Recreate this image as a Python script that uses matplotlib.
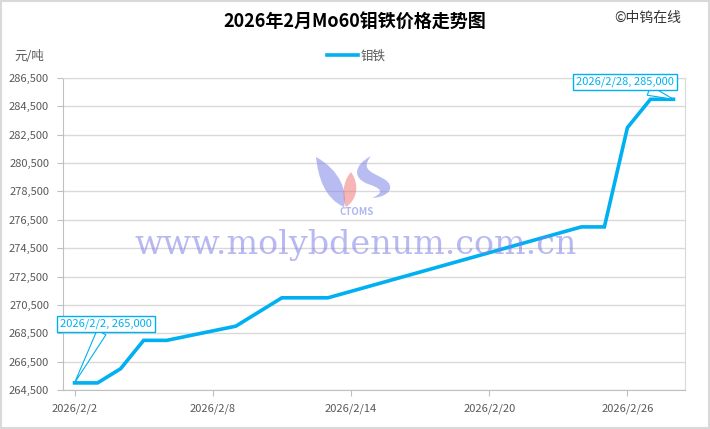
import matplotlib.pyplot as plt
import numpy as np
from matplotlib.path import Path
from matplotlib.patches import PathPatch

plt.rcParams['font.family'] = ['Noto Sans CJK SC', 'DejaVu Sans']

# trading days in Feb 2026 and Mo60 ferro-molybdenum price (yuan/ton)
days = [2, 3, 4, 5, 6, 9, 10, 11, 12, 13, 24, 25, 26, 27, 28]
prices = [265000, 265000, 266000, 268000, 268000, 269000, 270000, 271000,
          271000, 271000, 276000, 276000, 283000, 285000, 285000]
tick_days = [2, 8, 14, 20, 26]
tick_labels = ['2026/2/%d' % d for d in tick_days]
yticks = np.arange(264500, 286501, 2000)

blue = '#00B0F0'
gray = '#595959'
W, H = 710, 429

fig = plt.figure(figsize=(7.1, 4.29), dpi=100)
ax = fig.add_axes([63 / W, 1 - 390 / H, 622 / W, 312 / H])

ax.plot(days, prices, color=blue, lw=2.6, label='钼铁', solid_joinstyle='miter', zorder=3)

ax.set_xlim(1.5, 28.5)
ax.set_ylim(264500, 286500)
ax.set_yticks(yticks)
ax.set_yticklabels(['{:,}'.format(v) for v in yticks])
ax.set_xticks(tick_days)
ax.set_xticklabels(tick_labels)
ax.tick_params(colors='#BFBFBF', labelcolor=gray, labelsize=8, length=4)
ax.tick_params(axis='y', pad=6)
ax.tick_params(axis='x', pad=6)
ax.grid(axis='y', color='#D9D9D9', lw=1)
for s in ['top', 'right']:
    ax.spines[s].set_color('#D9D9D9')
for s in ['left', 'bottom']:
    ax.spines[s].set_color('#BFBFBF')


# logo (rough flame shapes), pixel coords with y downward
def px(pts):
    return [(x / W, 1 - y / H) for x, y in pts]


C4 = Path.CURVE4
logo = [
    ([(316, 157), (318, 176), (324, 198), (344, 207), (348, 192), (340, 170), (316, 157)], '#7F86E6'),
    ([(351, 172), (342, 182), (342, 198), (346, 207), (357, 200), (360, 185), (351, 172)], '#F07A7A'),
    ([(371, 156), (354, 165), (352, 178), (368, 184), (380, 188), (386, 192), (372, 198),
      (390, 197), (396, 186), (384, 179), (372, 172), (360, 170), (371, 156)], '#7F86E6'),
]
for pts, c in logo:
    codes = [Path.MOVETO] + [C4] * (len(pts) - 1)
    fig.patches.append(PathPatch(Path(px(pts), codes), transform=fig.transFigure,
                                 fc=c, ec='none', alpha=0.55, zorder=4))
fig.text(357 / W, 1 - 212 / H, 'CTOMS', ha='center', va='center', fontsize=7,
         style='italic', weight='bold', color='#7F86E6', alpha=0.6, zorder=4)

# watermark
fig.text(356 / W, 1 - 245 / H, 'www.molybdenum.com.cn', ha='center', va='center',
         family='DejaVu Serif', fontsize=24, color='#7F7FE8', alpha=0.55, zorder=4)

# callouts on first and last point
for d, p, xt, yt in [(days[0], prices[0], 106, H - 324), (days[-1], prices[-1], 625, H - 82)]:
    ax.annotate('2026/2/%d, %s' % (d, '{:,}'.format(p)), xy=(d, p), xytext=(xt, yt),
                textcoords='figure pixels', ha='center', va='center', fontsize=8, color=blue,
                bbox=dict(boxstyle='square,pad=0.25', fc='white', ec=blue, lw=1),
                arrowprops=dict(arrowstyle='wedge,tail_width=0.9,shrink_factor=0.5', fc='white',
                                ec=blue, lw=0.8, shrinkA=0, shrinkB=0),
                zorder=5)

fig.text(0.5, 1 - 22 / H, '2026年2月Mo60钼铁价格走势图', ha='center', va='center',
         fontsize=13, weight='bold', color='black')
fig.text(648 / W, 1 - 18 / H, '©中钨在线', ha='center', va='center', fontsize=10, color='#333333')
fig.text(14 / W, 1 - 56 / H, '元/吨', ha='left', va='center', fontsize=9, color=gray)
ax.legend(loc='center', bbox_to_anchor=(356 / W, 1 - 56 / H), bbox_transform=fig.transFigure,
          frameon=False, fontsize=9, labelcolor=gray, handlelength=2.5, handletextpad=0.2)

# outer border
fig.patches.append(plt.Rectangle((0.002, 0.003), 0.996, 0.994, transform=fig.transFigure,
                                 fill=False, ec='#D9D9D9', lw=1.5))

fig.savefig('out.png', dpi=100)
